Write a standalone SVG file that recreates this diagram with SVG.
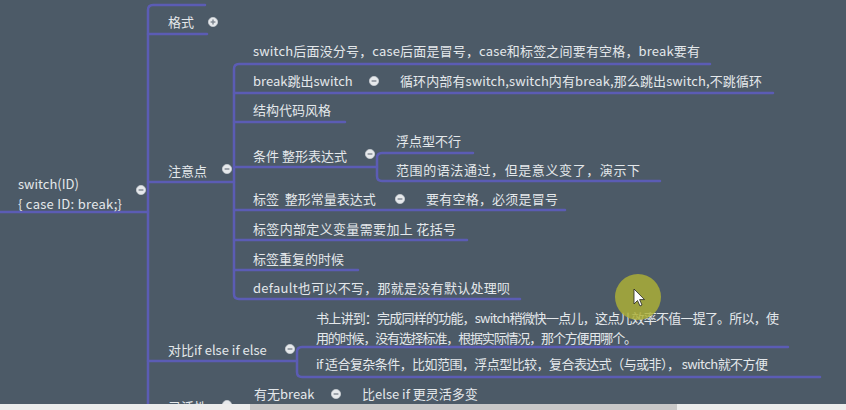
<svg xmlns="http://www.w3.org/2000/svg" width="846" height="410" viewBox="0 0 846 410">
<style>
  text { font-family: "Noto Sans CJK SC", "Noto Sans", sans-serif; font-size: 13px; fill: #e4e8eb; }
  .ln { fill: none; stroke: #5b5cb4; stroke-width: 2.5; stroke-linecap: round; }
  .btn { fill: #e6e9ec; stroke: #c9ced3; stroke-width: 0.8; }
  .sign { stroke: #7d8690; stroke-width: 1.4; fill: none; }
</style>
<defs>
  <g id="minus"><circle class="btn" cx="0" cy="0" r="4.6"/><line class="sign" x1="-2.4" y1="0" x2="2.4" y2="0"/></g>
  <g id="plus"><circle class="btn" cx="0" cy="0" r="4.6"/><line class="sign" x1="-2.4" y1="0" x2="2.4" y2="0"/><line class="sign" x1="0" y1="-2.4" x2="0" y2="2.4"/></g>
</defs>
<rect x="0" y="0" width="846" height="410" fill="#4c5a67"/>

<g id="connectors">
  <path class="ln" d="M 205 5 L 153 5 Q 148 5 148 10 L 148 412"/>
  <path class="ln" d="M -2 212 L 148 212"/>
  <path class="ln" d="M 148 34 L 207 34"/>
  <path class="ln" d="M 148 182 L 234 182"/>
  <path class="ln" d="M 148 361 L 297 361"/>
  <path class="ln" d="M 710 64 L 239 64 Q 234 64 234 69 L 234 294 Q 234 299 239 299 L 520 299"/>
  <path class="ln" d="M 234 93 L 773 93"/>
  <path class="ln" d="M 234 122 L 345 122"/>
  <path class="ln" d="M 234 167 L 377 167"/>
  <path class="ln" d="M 234 210 L 565 210"/>
  <path class="ln" d="M 234 240 L 467 240"/>
  <path class="ln" d="M 234 270 L 358 270"/>
  <path class="ln" d="M 473 153 L 382 153 Q 377 153 377 158 L 377 176 Q 377 181 382 181 L 660 181"/>
  <path class="ln" d="M 788 347 L 302 347 Q 297 347 297 352 L 297 372 Q 297 377 302 377 L 820 377"/>
</g>

<g id="root">
  <text x="18" y="189">switch(ID)</text>
  <text x="18" y="209" textLength="104">{ case ID: break;}</text>
  <use href="#minus" x="141" y="190"/>
</g>
<g id="n-geshi">
  <text x="168" y="27">格式</text>
  <use href="#plus" x="213" y="22"/>
</g>
<g id="n-zhuyi">
  <text x="168" y="176">注意点</text>
  <use href="#minus" x="227" y="169"/>
</g>
<g id="n-z1"><text x="253" y="56" textLength="447">switch后面没分号，case后面是冒号，case和标签之间要有空格，break要有</text></g>
<g id="n-z2">
  <text x="253" y="86">break跳出switch</text>
  <use href="#minus" x="374" y="81"/>
</g>
<g id="n-z2a"><text x="400" y="86" textLength="362">循环内部有switch,switch内有break,那么跳出switch,不跳循环</text></g>
<g id="n-z3"><text x="253" y="115">结构代码风格</text></g>
<g id="n-z4">
  <text x="253" y="161">条件 整形表达式</text>
  <use href="#minus" x="370" y="154"/>
</g>
<g id="n-z4a"><text x="396" y="146">浮点型不行</text></g>
<g id="n-z4b"><text x="396" y="175" textLength="244">范围的语法通过，但是意义变了，演示下</text></g>
<g id="n-z5">
  <text x="253" y="204" xml:space="preserve">标签  整形常量表达式</text>
  <use href="#minus" x="400" y="199"/>
</g>
<g id="n-z5a"><text x="426" y="204" textLength="132">要有空格，必须是冒号</text></g>
<g id="n-z6"><text x="253" y="234" textLength="203">标签内部定义变量需要加上 花括号</text></g>
<g id="n-z7"><text x="253" y="264">标签重复的时候</text></g>
<g id="n-z8"><text x="253" y="293" textLength="257">default也可以不写，那就是没有默认处理呗</text></g>
<g id="n-duibi">
  <text x="168" y="355">对比if else if else</text>
  <use href="#minus" x="290" y="349"/>
</g>
<g id="n-d1">
  <text x="316" y="323" textLength="463">书上讲到：完成同样的功能，switch稍微快一点儿，这点儿效率不值一提了。所以，使</text>
  <text x="316" y="343" textLength="321">用的时候，没有选择标准，根据实际情况，那个方便用哪个。</text>
</g>
<g id="n-d2"><text x="316" y="369" textLength="452">if 适合复杂条件，比如范围，浮点型比较，复合表达式（与或非）， switch就不方便</text></g>
<g id="n-linghuo">
  <text x="168" y="412">灵活性</text>
  <use href="#minus" x="227" y="405"/>
</g>
<g id="n-l1">
  <text x="254" y="399">有无break</text>
  <use href="#minus" x="336" y="394"/>
</g>
<g id="n-l1a"><text x="362" y="399">比else if 更灵活多变</text></g>

<circle cx="638" cy="297" r="23" fill="#aeb136" opacity="0.82"/>
<path d="M 634 289 L 634 304 L 637.5 300.5 L 640 306 L 642 305 L 639.6 299.6 L 644.5 299.6 Z" fill="#ffffff" stroke="#222222" stroke-width="0.8"/>

<rect x="0" y="404" width="846" height="6" fill="#ececec"/>
<rect x="250" y="404" width="427" height="6" fill="#c8c8c8"/>
</svg>
